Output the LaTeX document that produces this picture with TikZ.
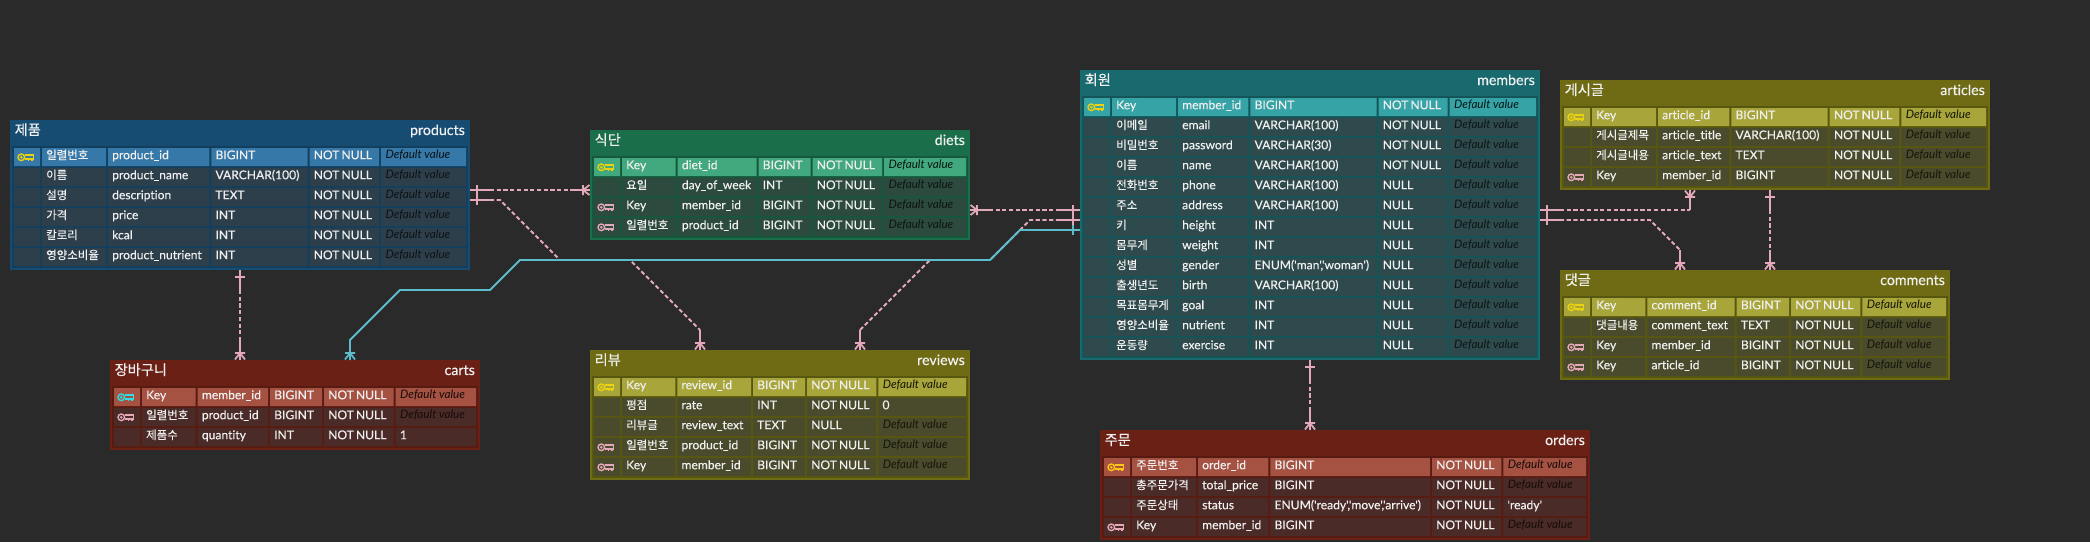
\documentclass[tikz,border=0pt]{standalone}
\usepackage{fontspec}
\usetikzlibrary{calc}
\newfontfamily\lato[FakeBold=0.25,WordSpace=0.65,Ligatures=NoCommon]{Lato}
\newfontfamily\latoplain[Ligatures=NoCommon]{Lato}
\newfontfamily\latotitle[FakeBold=0.35,Ligatures=NoCommon]{Lato}
\newfontfamily\krfont[FakeBold=0.2,Scale=0.946]{Noto Sans CJK KR}
\newfontfamily\krtitle[FakeBold=0.3]{Noto Sans CJK KR}
\newcommand{\K}[1]{{\krfont #1}}
\definecolor{erbg}{HTML}{2A2A2A}
\definecolor{erpinkc}{HTML}{E3A9B8}
\definecolor{ercyanc}{HTML}{5CBCCB}
\definecolor{erwhite}{HTML}{F0F0F0}
\definecolor{keyyellow}{HTML}{EBD211}
\definecolor{keyorange}{HTML}{FFC414}
\definecolor{keycyan}{HTML}{2FDDE0}
\newcommand{\ertheme}[4]{%
  \definecolor{erhead}{HTML}{#1}\definecolor{erinner}{HTML}{#2}%
  \definecolor{erpk}{HTML}{#3}\definecolor{errow}{HTML}{#4}}
\newcommand{\themeblue}{\ertheme{174C72}{123F5E}{3679A8}{2E3F4C}}
\newcommand{\themered}{\ertheme{6B2015}{581B12}{A65242}{4A2B27}}
\newcommand{\themegreen}{\ertheme{1A6E4A}{15583C}{42A87D}{2C4A3E}}
\newcommand{\themeolive}{\ertheme{6E6B14}{585710}{A8A63A}{4A4A2C}}
\newcommand{\themeteal}{\ertheme{186A6E}{135558}{36A4A6}{2E4A4C}}
\newcount\errowno
% #1 name, #2 x, #3 y, #4 width, #5 rows, #6 Korean title, #7 English title
\newcommand{\ertable}[7]{%
  \def\ername{#1}\def\xo{#2}\def\yo{#3}\def\tblw{#4}%
  \global\errowno=0
  \pgfmathsetmacro{\tblh}{30+20*#5}%
  \node[tablebox,fill=erhead,minimum width=#4pt,minimum height=\tblh pt] (#1) at (#2,#3) {};
  \fill[erinner] (#2+2,#3+26) rectangle (#2+#4-2,#3+\tblh-2);
  \node[titletext,anchor=base west] (#1-kr) at (#2+4.5,#3+15) {\krtitle #6};
  \node[titletext,anchor=base east] (#1-en) at (#2+#4-5,#3+15) {#7};
}
\newcommand{\ercols}[4]{\def\ca{#1}\def\cb{#2}\def\cc{#3}\def\cd{#4}}
% #1 key colour or none, #2..#5 cells, #6 default text (empty: placeholder)
\newcommand{\errow}[6]{%
  \global\advance\errowno by 1
  \pgfmathsetmacro{\yy}{\yo+28+20*(\the\errowno-1)}%
  \ifnum\errowno=1 \colorlet{ercell}{erpk}\colorlet{erdim}{black!88!erpk}\else
    \colorlet{ercell}{errow}\colorlet{erdim}{black!72!errow}\fi
  \fill[ercell] (\xo+4,\yy) rectangle (\xo+30,\yy+18)
     (\xo+32,\yy) rectangle (\xo+\ca,\yy+18)
     (\xo+\ca+2,\yy) rectangle (\xo+\cb,\yy+18)
     (\xo+\cb+2,\yy) rectangle (\xo+\cc,\yy+18)
     (\xo+\cc+2,\yy) rectangle (\xo+\cd,\yy+18)
     (\xo+\cd+2,\yy) rectangle (\xo+\tblw-4,\yy+18);
  \def\keyc{#1}\def\nokey{none}%
  \ifx\keyc\nokey\else
    \path (\xo+4,\yy) pic[draw=#1]{keyicon};
  \fi
  \node[celltext] (\ername-\the\errowno-a) at (\xo+36,\yy+11.2) {#2};
  \node[celltext] (\ername-\the\errowno-b) at (\xo+\ca+6,\yy+11.2) {#3};
  \node[celltext] (\ername-\the\errowno-c) at (\xo+\cb+6,\yy+11.2) {#4};
  \node[celltext] (\ername-\the\errowno-d) at (\xo+\cc+6,\yy+11.2) {#5};
  \def\dft{#6}%
  \ifx\dft\empty
    \node[celltext,text=erdim,font=\latoplain\itshape\fontsize{11.7}{13}\selectfont] (\ername-\the\errowno-e) at (\xo+\cd+6.3,\yy+10.3) {Default value};
  \else
    \node[celltext] (\ername-\the\errowno-e) at (\xo+\cd+6,\yy+11.2) {#6};
  \fi
}
\tikzset{
  tablebox/.style={rectangle,anchor=north west,inner sep=0pt,outer sep=0pt,draw=none},
  titletext/.style={inner sep=0pt,text=erwhite,font=\latotitle\fontsize{14.2}{15}\selectfont},
  celltext/.style={anchor=base west,inner sep=0pt,text=erwhite,font=\lato\fontsize{12.1}{14}\selectfont},
  pinksolid/.style={draw=erpinkc,line width=1.9pt},
  pinkdash/.style={draw=erpinkc,line width=1.9pt,dash pattern=on 4.2pt off 2.5pt},
  cyanline/.style={draw=ercyanc,line width=1.8pt},
  pics/keyicon/.style={code={
    \draw[line width=1.4pt,pic actions] (7.3,9.3) circle[radius=3.3pt];
    \draw[line width=1.1pt,pic actions] (7.3,9.3) circle[radius=0.7pt];
    \draw[line width=1.4pt,pic actions] (10.7,7) -- (19.5,7) -- (19.5,10.8) -- (10.7,10.8)
       (18,10.8) -- (18,13.2) (14.6,10.8) -- (14.6,12.8);
  }},
  % marks: origin on the table edge, +x pointing away from the table
  pics/onemark/.style={code={\draw[line width=1.8pt,pic actions] (7,-5) -- (7,5);}},
  pics/manymark/.style={code={
    \draw[line width=1.8pt,pic actions] (7,-5) -- (7,5) (7,0) -- (0.5,-5) (7,0) -- (0.5,5);
  }},
}
\begin{document}
\begin{tikzpicture}[x=1pt,y=-1pt]
\useasboundingbox (0,0) rectangle (2090,542);
\fill[erbg] (0,0) rectangle (2090,542);

\themeblue
\ercols{96}{199.3}{297.5}{369}
\ertable{products}{10}{120}{460}{6}{제품}{products}
\errow{keyyellow}{\K{일렬번호}}{product\_id}{BIGINT}{NOT NULL}{}
\errow{none}{\K{이름}}{product\_name}{VARCHAR(100)}{NOT NULL}{}
\errow{none}{\K{설명}}{description}{TEXT}{NOT NULL}{}
\errow{none}{\K{가격}}{price}{INT}{NOT NULL}{}
\errow{none}{\K{칼로리}}{kcal}{INT}{NOT NULL}{}
\errow{none}{\K{영양소비율}}{product\_nutrient}{INT}{NOT NULL}{}

\themered
\ercols{85.7}{158}{212}{283.7}
\ertable{carts}{110}{360}{370}{3}{장바구니}{carts}
\errow{keycyan}{Key}{member\_id}{BIGINT}{NOT NULL}{}
\errow{erpinkc}{\K{일렬번호}}{product\_id}{BIGINT}{NOT NULL}{}
\errow{none}{\K{제품수}}{quantity}{INT}{NOT NULL}{1}

\themegreen
\ercols{85.7}{166.5}{220.5}{292}
\ertable{diets}{590}{130}{380}{4}{식단}{diets}
\errow{keyyellow}{Key}{diet\_id}{BIGINT}{NOT NULL}{}
\errow{none}{\K{요일}}{day\_of\_week}{INT}{NOT NULL}{}
\errow{erpinkc}{Key}{member\_id}{BIGINT}{NOT NULL}{}
\errow{erpinkc}{\K{일렬번호}}{product\_id}{BIGINT}{NOT NULL}{}

\themeolive
\ercols{85.3}{161}{215}{286.3}
\ertable{reviews}{590}{350}{380}{5}{리뷰}{reviews}
\errow{keyyellow}{Key}{review\_id}{BIGINT}{NOT NULL}{}
\errow{none}{\K{평점}}{rate}{INT}{NOT NULL}{0}
\errow{none}{\K{리뷰글}}{review\_text}{TEXT}{NULL}{}
\errow{erpinkc}{\K{일렬번호}}{product\_id}{BIGINT}{NOT NULL}{}
\errow{erpinkc}{Key}{member\_id}{BIGINT}{NOT NULL}{}

\themeteal
\ercols{96}{168.4}{296.5}{367.7}
\ertable{members}{1080}{70}{460}{13}{회원}{members}
\errow{keyyellow}{Key}{member\_id}{BIGINT}{NOT NULL}{}
\errow{none}{\K{이메일}}{email}{VARCHAR(100)}{NOT NULL}{}
\errow{none}{\K{비밀번호}}{password}{VARCHAR(30)}{NOT NULL}{}
\errow{none}{\K{이름}}{name}{VARCHAR(100)}{NOT NULL}{}
\errow{none}{\K{전화번호}}{phone}{VARCHAR(100)}{NULL}{}
\errow{none}{\K{주소}}{address}{VARCHAR(100)}{NULL}{}
\errow{none}{\K{키}}{height}{INT}{NULL}{}
\errow{none}{\K{몸무게}}{weight}{INT}{NULL}{}
\errow{none}{\K{성별}}{gender}{ENUM('man','woman')}{NULL}{}
\errow{none}{\K{출생년도}}{birth}{VARCHAR(100)}{NULL}{}
\errow{none}{\K{목표몸무게}}{goal}{INT}{NULL}{}
\errow{none}{\K{영양소비율}}{nutrient}{INT}{NULL}{}
\errow{none}{\K{운동량}}{exercise}{INT}{NULL}{}

\themered
\ercols{96}{168.3}{330}{401.3}
\ertable{orders}{1100}{430}{490}{4}{주문}{orders}
\errow{keyorange}{\K{주문번호}}{order\_id}{BIGINT}{NOT NULL}{}
\errow{none}{\K{총주문가격}}{total\_price}{BIGINT}{NOT NULL}{}
\errow{none}{\K{주문상태}}{status}{ENUM('ready','move','arrive')}{NOT NULL}{'ready'}
\errow{erpinkc}{Key}{member\_id}{BIGINT}{NOT NULL}{}

\themeolive
\ercols{96}{169.3}{267.7}{339.3}
\ertable{articles}{1560}{80}{430}{4}{게시글}{articles}
\errow{keyyellow}{Key}{article\_id}{BIGINT}{NOT NULL}{}
\errow{none}{\K{게시글제목}}{article\_title}{VARCHAR(100)}{NOT NULL}{}
\errow{none}{\K{게시글내용}}{article\_text}{TEXT}{NOT NULL}{}
\errow{erpinkc}{Key}{member\_id}{BIGINT}{NOT NULL}{}

\ercols{85.3}{174.7}{229}{300.3}
\ertable{comments}{1560}{270}{390}{4}{댓글}{comments}
\errow{keyyellow}{Key}{comment\_id}{BIGINT}{NOT NULL}{}
\errow{none}{\K{댓글내용}}{comment\_text}{TEXT}{NOT NULL}{}
\errow{erpinkc}{Key}{member\_id}{BIGINT}{NOT NULL}{}
\errow{erpinkc}{Key}{article\_id}{BIGINT}{NOT NULL}{}

% connector ends, on the table borders
\coordinate (pd1) at (products.east |- 0,190);
\coordinate (dp1) at (diets.west |- 0,190);
\coordinate (pr1) at (products.east |- 0,200);
\coordinate (rp1) at (reviews.north -| 700,0);
\coordinate (pc1) at (products.south -| 240,0);
\coordinate (cp1) at (carts.north -| 240,0);
\coordinate (md1) at (members.west |- 0,210);
\coordinate (dm1) at (diets.east |- 0,210);
\coordinate (mr1) at (members.west |- 0,220);
\coordinate (rm1) at (reviews.north -| 860,0);
\coordinate (mc1) at (members.west |- 0,230);
\coordinate (cm1) at (carts.north -| 350,0);
\coordinate (mo1) at (members.south -| 1310,0);
\coordinate (om1) at (orders.north -| 1310,0);
\coordinate (ma1) at (members.east |- 0,210);
\coordinate (am1) at (articles.south -| 1690,0);
\coordinate (mk1) at (members.east |- 0,220);
\coordinate (km1) at (comments.north -| 1680,0);
\coordinate (ak1) at (articles.south -| 1770,0);
\coordinate (ka1) at (comments.north -| 1770,0);

% pink relations
\draw[pinksolid] (pd1) -- ++(20,0) (dp1) -- ++(-20,0);
\draw[pinkdash] ($(pd1)+(20,0)$) -- ($(dp1)+(-20,0)$);
\path (pd1) pic[draw=erpinkc]{onemark} (dp1) pic[rotate=180,draw=erpinkc]{manymark};

\draw[pinksolid] (pr1) -- ++(20,0) (rp1) -- ++(0,-20);
\draw[pinkdash] ($(pr1)+(20,0)$) -- (500,200) -- (560,260) -- (630,260) -- ($(rp1)+(0,-20)$);
\path (pr1) pic[draw=erpinkc]{onemark} (rp1) pic[rotate=90,draw=erpinkc]{manymark};

\draw[pinksolid] (pc1) -- ++(0,20) (cp1) -- ++(0,-20);
\draw[pinkdash] ($(pc1)+(0,20)$) -- ($(cp1)+(0,-20)$);
\path (pc1) pic[rotate=270,draw=erpinkc]{onemark} (cp1) pic[rotate=90,draw=erpinkc]{manymark};

\draw[pinksolid] (md1) -- ++(-20,0) (dm1) -- ++(20,0);
\draw[pinkdash] ($(md1)+(-20,0)$) -- ($(dm1)+(20,0)$);
\path (md1) pic[rotate=180,draw=erpinkc]{onemark} (dm1) pic[draw=erpinkc]{manymark};

\draw[pinksolid] (mr1) -- ++(-20,0) (rm1) -- ++(0,-20);
\draw[pinkdash] ($(mr1)+(-20,0)$) -- (1030,220) -- (990,260) -- (930,260) -- ($(rm1)+(0,-20)$);
\path (mr1) pic[rotate=180,draw=erpinkc]{onemark} (rm1) pic[rotate=90,draw=erpinkc]{manymark};

\draw[pinksolid] (mo1) -- ++(0,20) (om1) -- ++(0,-20);
\draw[pinkdash] ($(mo1)+(0,20)$) -- ($(om1)+(0,-20)$);
\path (mo1) pic[rotate=270,draw=erpinkc]{onemark} (om1) pic[rotate=90,draw=erpinkc]{manymark};

\draw[pinksolid] (ma1) -- ++(20,0) (am1) -- ++(0,20);
\draw[pinkdash] ($(ma1)+(20,0)$) -- ($(am1)+(0,20)$);
\path (ma1) pic[draw=erpinkc]{onemark} (am1) pic[rotate=270,draw=erpinkc]{manymark};

\draw[pinksolid] (mk1) -- ++(20,0) (km1) -- ++(0,-20);
\draw[pinkdash] ($(mk1)+(20,0)$) -- (1650,220) -- ($(km1)+(0,-20)$);
\path (mk1) pic[draw=erpinkc]{onemark} (km1) pic[rotate=90,draw=erpinkc]{manymark};

\draw[pinksolid] (ak1) -- ++(0,20) (ka1) -- ++(0,-20);
\draw[pinkdash] ($(ak1)+(0,20)$) -- ($(ka1)+(0,-20)$);
\path (ak1) pic[rotate=270,draw=erpinkc]{onemark} (ka1) pic[rotate=90,draw=erpinkc]{manymark};

% cyan relation
\draw[cyanline] (mc1) -- (1020,230) -- (990,260) -- (520,260) -- (490,290) -- (400,290) -- (350,340) -- (cm1);
\path (mc1) pic[rotate=180,draw=ercyanc]{onemark} (cm1) pic[rotate=90,draw=ercyanc]{manymark};
\end{tikzpicture}
\end{document}
